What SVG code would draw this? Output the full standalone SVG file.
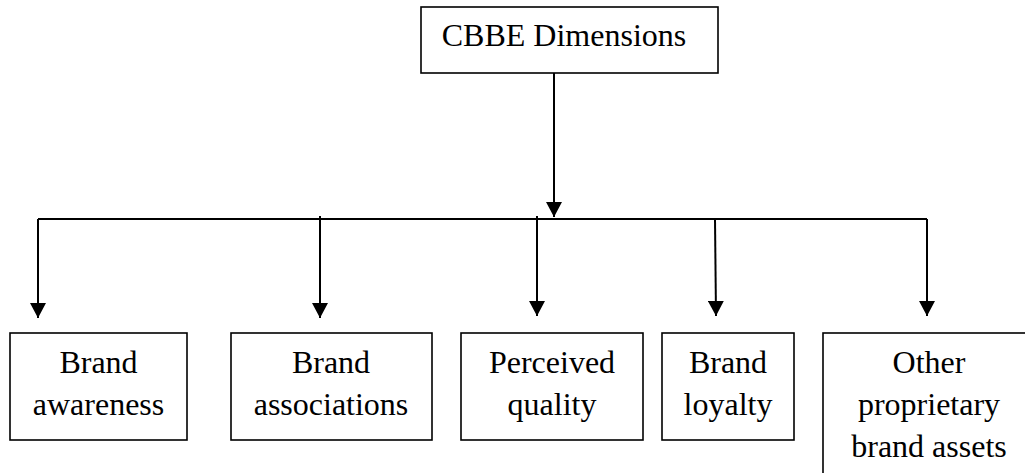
<svg xmlns="http://www.w3.org/2000/svg" width="1025" height="473" viewBox="0 0 1025 473">
<style>
.box{fill:#fff;stroke:#000;stroke-width:1.6}
.t{font-size:32px;fill:#000;text-anchor:middle}
.ln{fill:none;stroke:#000;stroke-width:2}
</style>
<defs>
<marker id="ah" markerUnits="userSpaceOnUse" markerWidth="16" markerHeight="16" refX="15" refY="8" orient="auto" viewBox="0 0 16 16">
<path d="M0,0 L15,8 L0,16 Z" fill="#000"/>
</marker>
</defs>
<rect width="1025" height="473" fill="#fff"/>
<g id="connectors">
<line class="ln" x1="554" y1="73" x2="554" y2="217" marker-end="url(#ah)"/>
<line class="ln" x1="38" y1="219" x2="927" y2="219"/>
<polyline class="ln" points="38,219 38,318" marker-end="url(#ah)"/>
<line class="ln" x1="320" y1="216" x2="320" y2="318" marker-end="url(#ah)"/>
<line class="ln" x1="537" y1="216" x2="537" y2="316" marker-end="url(#ah)"/>
<line class="ln" x1="715" y1="219" x2="716" y2="316" marker-end="url(#ah)"/>
<polyline class="ln" points="927,219 927,316" marker-end="url(#ah)"/>
</g>
<g font-family="Liberation Serif, Times New Roman, serif">
<g id="root">
<rect class="box" x="421" y="7" width="297" height="66"/>
<text class="t" x="564" y="46">CBBE Dimensions</text>
</g>
<g id="n1">
<rect class="box" x="10" y="333" width="177" height="107"/>
<text class="t" x="98.5" y="373">Brand</text>
<text class="t" x="98.5" y="415">awareness</text>
</g>
<g id="n2">
<rect class="box" x="231" y="333" width="201" height="107"/>
<text class="t" x="331" y="373">Brand</text>
<text class="t" x="331" y="415">associations</text>
</g>
<g id="n3">
<rect class="box" x="461" y="333" width="182" height="107"/>
<text class="t" x="552" y="373">Perceived</text>
<text class="t" x="552" y="415">quality</text>
</g>
<g id="n4">
<rect class="box" x="662" y="333" width="132" height="107"/>
<text class="t" x="728" y="373">Brand</text>
<text class="t" x="728" y="415">loyalty</text>
</g>
<g id="n5">
<rect class="box" x="823" y="333" width="212" height="160"/>
<text class="t" x="929" y="373">Other</text>
<text class="t" x="929" y="415">proprietary</text>
<text class="t" x="929" y="457">brand assets</text>
</g>
</g>
</svg>
